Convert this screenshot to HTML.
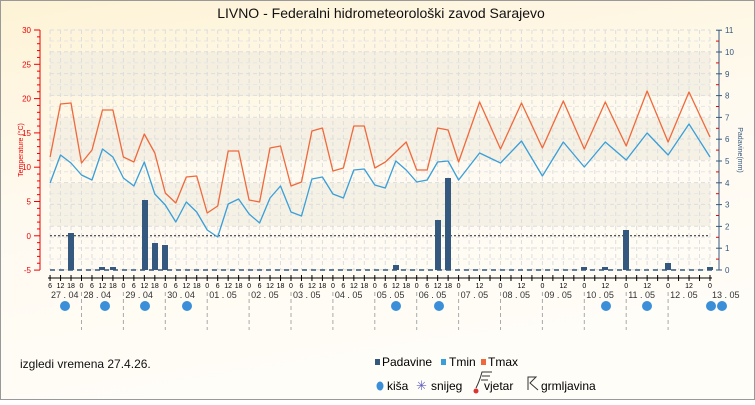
<!DOCTYPE html>
<html><head><meta charset="utf-8"><style>
body{margin:0;width:755px;height:400px;overflow:hidden;font-family:"Liberation Sans",sans-serif}
</style></head><body>
<svg id="s" width="755" height="400" xmlns="http://www.w3.org/2000/svg" font-family="Liberation Sans, sans-serif">
<defs>
<linearGradient id="bg" x1="0" y1="0" x2="0.3" y2="1">
<stop offset="0" stop-color="#fdf3d6"/><stop offset="0.5" stop-color="#fffaf0"/><stop offset="1" stop-color="#fffdf8"/></linearGradient>
</defs>
<rect x="0.5" y="0.5" width="754" height="399" fill="url(#bg)" stroke="#999"/>
<text x="381" y="18" font-size="14" text-anchor="middle" fill="#111">LIVNO - Federalni hidrometeorološki zavod Sarajevo</text>
<g id="g"></g>
<text x="20" y="368" font-size="12" fill="#111">izgledi vremena 27.4.26.</text>
<rect x="375" y="359" width="5" height="6" fill="#34587e"/><text x="382" y="366" font-size="12">Padavine</text>
<rect x="441" y="359" width="5" height="6" fill="#3a9fd8"/><text x="449" y="366" font-size="12">Tmin</text>
<rect x="481" y="359" width="5" height="6" fill="#f0693c"/><text x="488" y="366" font-size="12">Tmax</text>
<ellipse cx="380" cy="386" rx="3.5" ry="4.5" fill="#3a8fd8"/><text x="387" y="390" font-size="12">kiša</text>
<text x="416" y="390" font-size="13" fill="#6060c0">✳</text><text x="431" y="390" font-size="12">snijeg</text>
<path d="M476 388 Q480 380 482 372 L492 372 M482 376 L490 376 M481 380 L488 380" stroke="#333" fill="none"/><circle cx="476" cy="391" r="2.5" fill="#d33"/>
<text x="484" y="390" font-size="12">vjetar</text>
<path d="M528 390 V377 H536 L530 383 L538 390" stroke="#333" fill="none"/>
<text x="541" y="390" font-size="12">grmljavina</text>
</svg>
<script>
const g=document.getElementById('g');let h='';
const X=t=>81.5+41.9*t;
[[52,96],[118,160],[183,226]].forEach(b=>h+=`<rect x="50" y="${b[0]}" width="660" height="${b[1]-b[0]}" fill="#f1ece0" opacity="0.7"/>`);
for(let y=30;y<=270;y+=21.8)h+=`<line x1="50" x2="710" y1="${y}" y2="${y}" stroke="#ddd" stroke-dasharray="4,3"/>`;
for(let y=41;y<=270;y+=21.8)h+=`<line x1="50" x2="710" y1="${y}" y2="${y}" stroke="#e6e6e6" stroke-dasharray="4,3"/>`;
let ticks=[];
for(let i=0;i<=38;i++)ticks.push([-0.75+i*0.25,true]);
for(let i=0;i<=24;i++){let t=9+i*0.25;ticks.push([t,i%2==0]);}
ticks.forEach(a=>h+=`<line x1="${X(a[0])}" x2="${X(a[0])}" y1="30" y2="270" stroke="#ddd" stroke-dasharray="4,3"/>`);
h+=`<line x1="50" x2="710" y1="235.7" y2="235.7" stroke="#222" stroke-dasharray="2,2"/>`;
h+=`<line x1="40" x2="40" y1="30" y2="270" stroke="#e00"/>`;
for(let i=0;i<=7;i++){let y=30+i*34.3;h+=`<line x1="34" x2="40" y1="${y}" y2="${y}" stroke="#e00"/><text x="31" y="${y+3}" font-size="8" fill="#e00" text-anchor="end">${30-5*i}</text>`;if(i<7)for(let k=1;k<5;k++)h+=`<line x1="37" x2="40" y1="${y+k*6.86}" y2="${y+k*6.86}" stroke="#e00"/>`;}
h+=`<text transform="translate(23,150) rotate(-90)" font-size="7" fill="#e00" text-anchor="middle">Temperature (°C)</text>`;
h+=`<line x1="719" x2="719" y1="30" y2="270" stroke="#34587e"/>`;
for(let i=0;i<=11;i++){let y=270-i*21.8;h+=`<line x1="716" x2="722" y1="${y}" y2="${y}" stroke="#34587e"/><text x="725" y="${y+3}" font-size="8" fill="#34587e">${i}</text>`;if(i<11)h+=`<line x1="716" x2="719" y1="${y-10.9}" y2="${y-10.9}" stroke="#e00"/>`;}
h+=`<text transform="translate(738,150) rotate(90)" font-size="7" fill="#34587e" text-anchor="middle">Padavine(mm)</text>`;
h+=`<line x1="48" x2="712" y1="278" y2="278" stroke="#000"/>`;
ticks.forEach(a=>{let t=a[0];let hr=Math.round(((t%1)+1)%1*24)%24;h+=`<line x1="${X(t)}" x2="${X(t)}" y1="275" y2="281" stroke="#000"/>`;if(a[1])h+=`<text x="${X(t)}" y="288" font-size="7" text-anchor="middle">${hr}</text>`;});
const dates=['27 . 04','28 . 04','29 . 04','30 . 04','01 . 05','02 . 05','03 . 05','04 . 05','05 . 05','06 . 05','07 . 05','08 . 05','09 . 05','10 . 05','11 . 05','12 . 05','13 . 05'];
dates.forEach((d,i)=>{let t=i-1;h+=`<text x="${i==0?51:X(t)+2}" y="298" font-size="9" fill="#333">${d}</text>`;if(i>0&&i<16)h+=`<line x1="${X(t)}" x2="${X(t)}" y1="292" y2="330" stroke="#aaa" stroke-dasharray="4,3"/>`;});
h+=`<line x1="50" x2="712" y1="270" y2="270" stroke="#34587e" stroke-width="1.5" stroke-dasharray="5,4"/>`;
[[71,233],[102,267],[113,267],[145,200],[155,243],[165,245],[396,265],[438,220],[448,178],[584,267],[605,267],[626,230],[668,263],[710,267]].forEach(b=>h+=`<rect x="${b[0]-3}" y="${b[1]}" width="6" height="${270-b[1]}" fill="#34587e"/>`);
const tmax=[157,104,103,163,150,110,110,157,162,134,153,193,203,177,176,213,206,151,151,200,202,148,146,186,182,131,128,171,168,126,126,168,162,152,142,170,170,128,130,162,102,149,103,148,101,149,102,146,91,142,92,137];
const tmin=[183,155,163,175,180,149,157,178,186,162,194,205,222,202,212,230,237,204,199,214,223,198,186,212,216,179,177,194,198,170,169,185,188,161,170,182,180,162,161,180,153,163,141,176,142,167,142,160,133,155,124,157];
const tt=[];for(let i=0;i<39;i++)tt.push(-0.75+i*0.25);for(let i=0;i<13;i++)tt.push(9+i*0.5);
const pts=a=>a.map((y,i)=>X(tt[i]).toFixed(1)+','+y).join(' ');
h+=`<polyline points="${pts(tmax)}" fill="none" stroke="#f0693c" stroke-width="1.3" stroke-linejoin="round"/>`;
h+=`<polyline points="${pts(tmin)}" fill="none" stroke="#3a9fd8" stroke-width="1.3" stroke-linejoin="round"/>`;
[65,105,145,187,396,439,606,647,711,722].forEach(x=>h+=`<circle cx="${x}" cy="306" r="5" fill="#3a8fd8"/>`);
g.innerHTML=h;
</script>
</body></html>
